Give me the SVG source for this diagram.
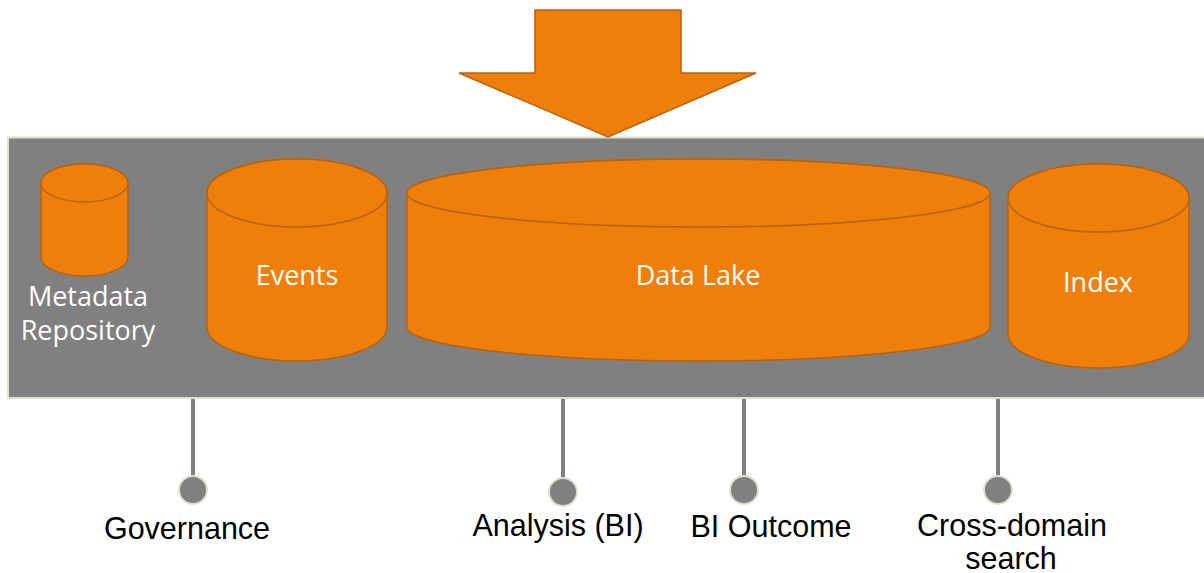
<svg xmlns="http://www.w3.org/2000/svg" width="1204" height="573" viewBox="0 0 1204 573">
  <style>
    .band { fill: #808080; stroke: #e3dfd0; stroke-width: 2; }
    .cyl { fill: #ef7f0a; stroke: #b8620e; stroke-width: 1.5; }
    .inlabel { font-family: "Open Sans", "Liberation Sans", sans-serif; font-size: 27px; fill: #ffffff; text-anchor: middle; }
    .outlabel { font-family: "Liberation Sans", Arial, sans-serif; font-size: 30.5px; fill: #000000; text-anchor: middle; }
    .stem { stroke: #808080; stroke-width: 4; fill: none; }
    .dot { fill: #808080; stroke: #e3dfd0; stroke-width: 2; }
  </style>

  <rect width="1204" height="573" fill="#ffffff"/>

  <!-- platform band -->
  <rect id="platform" class="band" x="8" y="137.5" width="1210" height="260.5"/>

  <!-- ingest arrow -->
  <g id="ingest-arrow">
    <polygon class="cyl" points="535,10 681,10 681,73 756,73 608,137 459,73 535,73"/>
  </g>

  <!-- Metadata Repository -->
  <g id="metadata">
    <path class="cyl" d="M41,183 L41,257 A43.5,19 0 0 0 128,257 L128,183 A43.5,19 0 0 0 41,183 Z"/>
    <ellipse class="cyl" cx="84.5" cy="183" rx="43.5" ry="19"/>
    <text class="inlabel" x="88" y="306">Metadata<tspan x="88" dy="34">Repository</tspan></text>
  </g>

  <!-- Events -->
  <g id="events">
    <path class="cyl" d="M207,193 L207,327 A90,34 0 0 0 387,327 L387,193 A90,34 0 0 0 207,193 Z"/>
    <ellipse class="cyl" cx="297" cy="193" rx="90" ry="34"/>
    <text class="inlabel" x="297" y="285">Events</text>
  </g>

  <!-- Data Lake -->
  <g id="data-lake">
    <path class="cyl" d="M407,193 L407,327 A291.5,34 0 0 0 990,327 L990,193 A291.5,34 0 0 0 407,193 Z"/>
    <ellipse class="cyl" cx="698.5" cy="193" rx="291.5" ry="34"/>
    <text class="inlabel" x="698" y="285">Data Lake</text>
  </g>

  <!-- Index -->
  <g id="index">
    <path class="cyl" d="M1008,198 L1008,334 A90.5,34 0 0 0 1189,334 L1189,198 A90.5,34 0 0 0 1008,198 Z"/>
    <ellipse class="cyl" cx="1098.5" cy="198" rx="90.5" ry="34"/>
    <text class="inlabel" x="1098" y="292">Index</text>
  </g>

  <!-- outputs hanging below the platform -->
  <g id="connectors">
    <line class="stem" x1="193" y1="399" x2="193" y2="478"/>
    <line class="stem" x1="563" y1="399" x2="563" y2="478"/>
    <line class="stem" x1="744" y1="399" x2="744" y2="478"/>
    <line class="stem" x1="998" y1="399" x2="998" y2="478"/>
  </g>

  <g id="governance">
    <circle class="dot" cx="193" cy="490" r="14"/>
    <text class="outlabel" x="187" y="539">Governance</text>
  </g>

  <g id="analysis">
    <circle class="dot" cx="563" cy="492" r="14"/>
    <text class="outlabel" x="558" y="536">Analysis (BI)</text>
  </g>

  <g id="bi-outcome">
    <circle class="dot" cx="744" cy="490" r="14"/>
    <text class="outlabel" x="771" y="537">BI Outcome</text>
  </g>

  <g id="cross-domain">
    <circle class="dot" cx="998" cy="490" r="14"/>
    <text class="outlabel" x="1012" y="536">Cross-domain<tspan x="1011" dy="33">search</tspan></text>
  </g>
</svg>
